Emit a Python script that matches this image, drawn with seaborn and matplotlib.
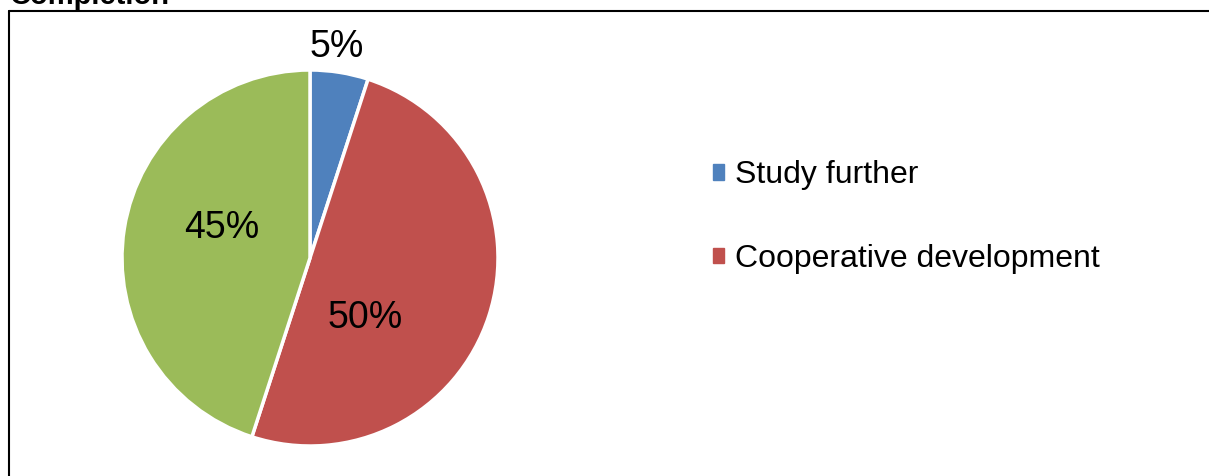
import matplotlib
matplotlib.use('Agg')
import matplotlib.pyplot as plt
import matplotlib.patches as mpatches
import seaborn as sns

# data
categories = ['Study further', 'Cooperative development', 'Other']
shares = [5, 50, 45]
legend_items = ['Study further', 'Cooperative development']
colors = ['#4F81BD', '#C0504D', '#9BBB59']

sns.set_style('white')
plt.rcParams['font.family'] = ['Liberation Sans', 'DejaVu Sans']
plt.rcParams['text.color'] = 'black'

W, H = 1209, 476
fig = plt.figure(figsize=(W / 100, H / 100), dpi=100)

# chart border (top and left visible, rest runs off the image)
fig.add_artist(plt.Line2D([8.5 / W, 8.5 / W], [0, 1 - 10.5 / H], color='black', lw=1.5,
                          transform=fig.transFigure))
fig.add_artist(plt.Line2D([8.5 / W, 1], [1 - 10.5 / H, 1 - 10.5 / H], color='black', lw=1.5,
                          transform=fig.transFigure))

# cut-off title
fig.text(10 / W, 1 - 4 / H, 'Completion', fontsize=21, fontweight='bold',
         ha='left', va='baseline', color='black')

# pie axes
cx, cy, r = 310, 258, 188
ax = fig.add_axes([(cx - r) / W, (H - cy - r) / H, 2 * r / W, 2 * r / H])
wedges, _, pcts = ax.pie(shares, colors=colors, startangle=90, counterclock=False,
                         autopct='%1.0f%%', pctdistance=0.5,
                         wedgeprops=dict(edgecolor='white', linewidth=2.5),
                         textprops=dict(fontsize=27, color='black'))
ax.set_xlim(-1, 1)
ax.set_ylim(-1, 1)
ax.set_aspect('equal')
ax.axis('off')

# label positions as Excel placed them
label_pos = [(0.144, 1.12), (0.293, -0.319), (-0.468, 0.16)]
for t, p in zip(pcts, label_pos):
    t.set_position(p)
    t.set_ha('center')
    t.set_va('center')
    t.set_clip_on(False)

handles = [mpatches.Patch(color=colors[categories.index(n)]) for n in legend_items]
leg = fig.legend(handles, legend_items, loc='center left',
                 bbox_to_anchor=(684 / W, 1 - 217 / H), frameon=False, fontsize=23,
                 handlelength=0.35, handleheight=0.35, handletextpad=0.35,
                 labelspacing=1.66)
for t in leg.get_texts():
    t.set_color('black')

fig.savefig('out.png', dpi=100)
